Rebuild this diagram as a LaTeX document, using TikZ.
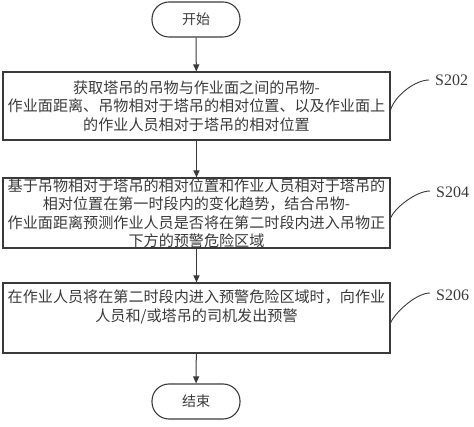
\documentclass[tikz,border=0pt]{standalone}
\usepackage{fontspec}
\newfontfamily\cjk{Noto Sans CJK SC}
\newfontfamily\lat{Liberation Serif}
\usetikzlibrary{arrows.meta}
\definecolor{ink}{HTML}{3A3A3A}
\begin{document}
\begin{tikzpicture}[x=1pt,y=-1pt,
  term/.style={draw=ink,line width=1.1pt,rounded corners=17pt,minimum width=88pt,minimum height=35pt,inner sep=0pt,font=\cjk\fontsize{14}{16}\selectfont,text=ink},
  stepbox/.style={draw=ink,line width=1.1pt,minimum width=387pt,inner sep=0pt,align=center,font=\cjk\fontsize{15.1}{18.5}\selectfont,text=ink},
  flow/.style={draw=ink,line width=1pt,-{Triangle[length=7pt,width=6pt]}},
  lab/.style={font=\lat\fontsize{16}{18}\selectfont,text=ink,anchor=west,inner sep=1pt},
  lead/.style={draw=ink,line width=0.9pt}]
\useasboundingbox (0,0) rectangle (474,427);
\node[term] (start) at (196,19.5) {开始};
\node[stepbox,minimum height=68pt] (b1) at (196.5,106) {获取塔吊的吊物与作业面之间的吊物-\\作业面距离、吊物相对于塔吊的相对位置、以及作业面上\\的作业人员相对于塔吊的相对位置};
\node[stepbox,minimum height=70pt] (b2) at (196.5,213) {基于吊物相对于塔吊的相对位置和作业人员相对于塔吊的\\相对位置在第一时段内的变化趋势，结合吊物-\\作业面距离预测作业人员是否将在第二时段内进入吊物正\\下方的预警危险区域};
\node[stepbox,minimum height=70pt] (b3) at (196.5,318) {在作业人员将在第二时段内进入预警危险区域时，向作业\\人员和/或塔吊的司机发出预警\\[6pt]};
\node[term] (end) at (196,401.5) {结束};
\draw[flow] (start) -- (b1);
\draw[flow] (b1) -- (b2);
\draw[flow] (b2) -- (b3);
\draw[flow] (b3) -- (end);
\node[lab] (l1) at (434,80) {S202};
\node[lab] (l2) at (435,192) {S204};
\node[lab] (l3) at (435,295) {S206};
\draw[lead] ([yshift=-4pt]b1.east) .. controls +(4,-14) and +(-14,0) .. ([xshift=-5pt]l1.west);
\draw[lead] ([yshift=-5pt]b2.east) .. controls +(4,-10) and +(-14,0) .. ([xshift=-5pt,yshift=1pt]l2.west);
\draw[lead] ([yshift=-5pt]b3.east) .. controls +(4,-10) and +(-14,0) .. ([xshift=-5pt,yshift=2pt]l3.west);
\end{tikzpicture}
\end{document}
